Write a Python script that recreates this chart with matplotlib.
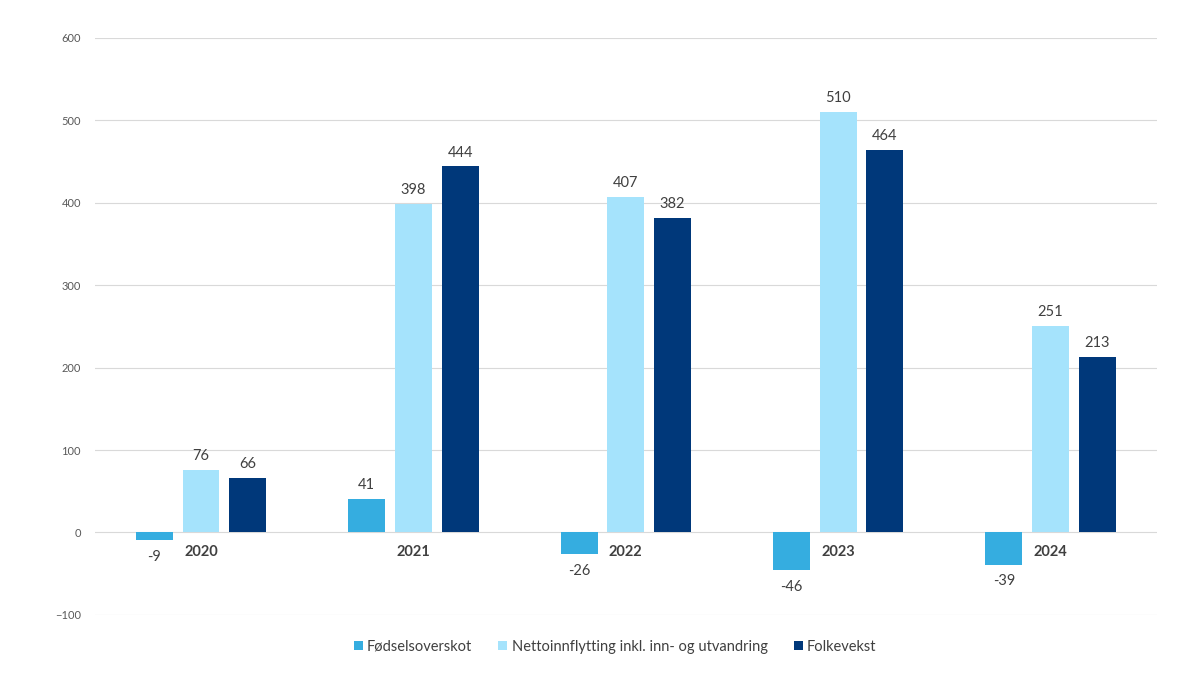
import matplotlib

matplotlib.use("Agg")
import matplotlib.pyplot as plt
import numpy as np

years = ["2020", "2021", "2022", "2023", "2024"]
fodselsoverskot = [-9, 41, -26, -46, -39]
nettoinnflytting = [76, 398, 407, 510, 251]
folkevekst = [66, 444, 382, 464, 213]

series = [
    ("Fødselsoverskot", fodselsoverskot, "#35ADE0"),
    ("Nettoinnflytting inkl. inn- og utvandring", nettoinnflytting, "#A5E3FC"),
    ("Folkevekst", folkevekst, "#00387A"),
]

plt.rcParams["font.family"] = ["Lato", "DejaVu Sans"]

fig = plt.figure(figsize=(12, 6.75), dpi=100)
ax = fig.add_axes([0.079, 0.089, 0.885, 0.855])

x = np.arange(len(years))
width = 0.174
step = 0.22
for i, (label, vals, color) in enumerate(series):
    pos = x + (i - 1) * step
    bars = ax.bar(pos, vals, width=width, color=color, label=label, zorder=3)
    for b, v in zip(bars, vals):
        off = 10 if v >= 0 else -12
        ax.annotate(str(v), (b.get_x() + b.get_width() / 2, v),
                    xytext=(0, off), textcoords="offset points",
                    ha="center", va="center", fontsize=10.5, color="#404040")

for xi, yr in zip(x, years):
    ax.annotate(yr, (xi, 0), xytext=(0, -14), textcoords="offset points",
                ha="center", va="center", fontsize=10.5, fontweight="bold",
                color="#404040")

ax.set_xlim(-0.5, len(years) - 0.5)
ax.set_ylim(-100, 600)
ax.set_yticks(range(-100, 601, 100))
ax.set_xticks([])
ax.tick_params(axis="y", length=0, labelsize=8, labelcolor="#595959", pad=10)
ax.grid(axis="y", color="#D9D9D9", linewidth=0.8, zorder=0)
for s in ax.spines.values():
    s.set_visible(False)

ax.legend(loc="upper center", bbox_to_anchor=(0.49, -0.02), ncol=3, frameon=False,
          fontsize=10.5, handlelength=0.6, handleheight=0.6, columnspacing=1.8,
          handletextpad=0.3, labelcolor="#404040")

fig.savefig("out.png", dpi=100)
